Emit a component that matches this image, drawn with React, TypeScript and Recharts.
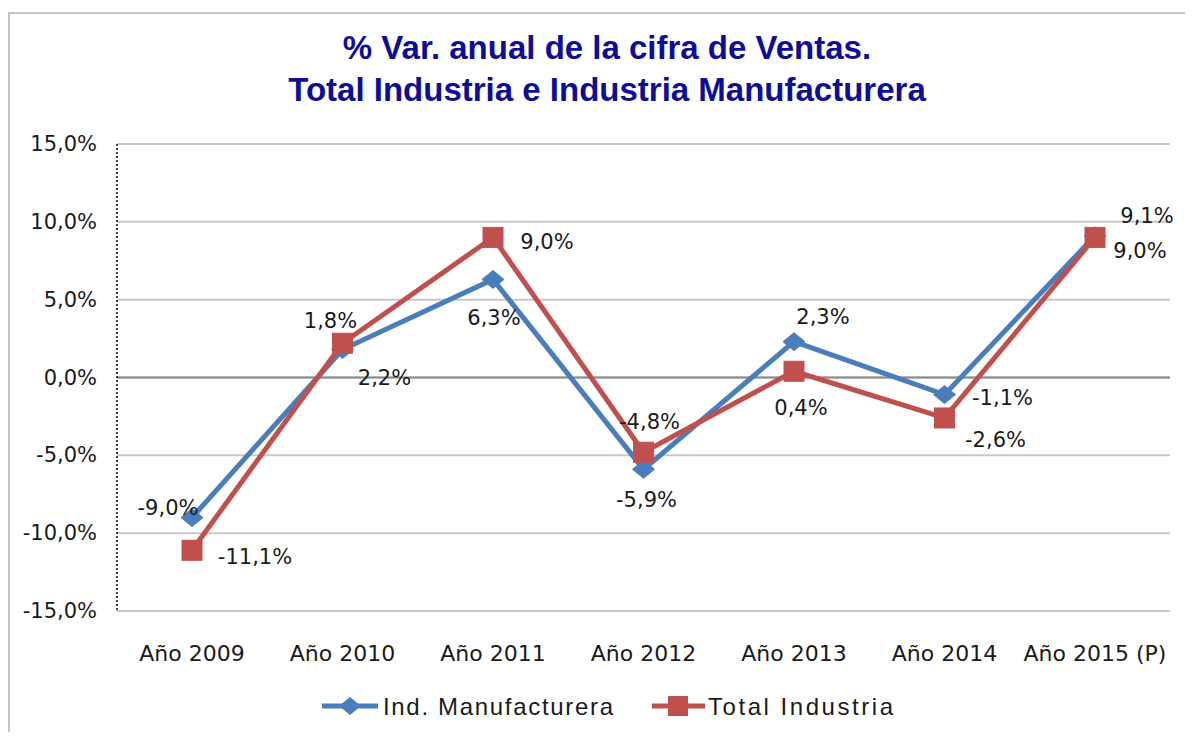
import React from "react";
import { LineChart, Line, XAxis, YAxis, CartesianGrid, ReferenceLine } from "recharts";

const categories = ["Año 2009", "Año 2010", "Año 2011", "Año 2012", "Año 2013", "Año 2014", "Año 2015 (P)"];
const manufacturera = [-9.0, 1.8, 6.3, -5.9, 2.3, -1.1, 9.1];
const totalIndustria = [-11.1, 2.2, 9.0, -4.8, 0.4, -2.6, 9.0];
const yTicks = [-15, -10, -5, 0, 5, 10, 15];
const titleLines = ["% Var. anual de la cifra de Ventas.", "Total Industria e Industria Manufacturera"];
const seriesNames = ["Ind. Manufacturera", "Total Industria"];

// label placement offsets (layout only)
const blueLabelOffsets: [number, number][] = [[-24, -10], [-12, -28], [1, 39], [3, 31], [29, -25], [58, 3], [52, -20]];
const redLabelOffsets: [number, number][] = [[63, 7], [42, 35], [54, 5], [6, -30], [7, 37], [51, 22], [45, 14]];

const data = categories.map((c, i) => ({ cat: c, man: manufacturera[i], tot: totalIndustria[i] }));

const BLUE = "#4a7ebb";
const RED = "#c0504d";
const FONT = "'DejaVu Sans', Verdana, sans-serif";

const fmt = (v: number) => v.toFixed(1).replace(".", ",") + "%";

const makeLabel = (offsets: [number, number][]) => (props: any) => {
  const { x, y, index, value } = props;
  const [dx, dy] = offsets[index] || [0, 0];
  return (
    <text key={"l" + index} x={x + dx} y={y + dy} textAnchor="middle" dominantBaseline="central"
      fontFamily={FONT} fontSize={21} fill="#1a1a1a">{fmt(value)}</text>
  );
};

const Diamond = (props: any) => {
  const { cx, cy, index } = props;
  return <path key={"d" + index} d={`M${cx - 11},${cy} L${cx},${cy - 9} L${cx + 11},${cy} L${cx},${cy + 9} Z`} fill={BLUE} stroke={BLUE} strokeWidth={1} />;
};

const Square = (props: any) => {
  const { cx, cy, index } = props;
  return <rect key={"s" + index} x={cx - 10} y={cy - 10} width={20} height={20} fill={RED} stroke={RED} strokeWidth={1} />;
};

const XTick = (props: any) => {
  const { x, y, payload } = props;
  return (
    <text x={x} y={y + 48} textAnchor="middle" fontFamily={FONT} fontSize={22} fill="#1a1a1a">{payload.value}</text>
  );
};

const YTick = (props: any) => {
  const { x, y, payload } = props;
  return (
    <text x={x} y={y} textAnchor="end" dominantBaseline="central" fontFamily={FONT} fontSize={21} fill="#1a1a1a">{fmt(payload.value)}</text>
  );
};

export default function App() {
  return (
    <div style={{ position: "relative", width: 1177, height: 724, overflow: "hidden", background: "#fff" }}>
      <div style={{ position: "absolute", left: 0, top: 4, width: 1200, height: 740, borderLeft: "2px solid #c4c4c4", borderTop: "2px solid #c4c4c4", boxSizing: "border-box" }} />
      <div style={{ position: "absolute", left: 21, top: 19, width: 1156, textAlign: "center", fontFamily: "'Liberation Sans', Arial, sans-serif", fontWeight: "bold", fontSize: 33, lineHeight: "42px", color: "#0d0d99" }}>
        <div>{titleLines[0]}</div>
        <div>{titleLines[1]}</div>
      </div>
      <div style={{ position: "absolute", left: 0, top: 0 }}>
        <LineChart width={1177} height={724} data={data} margin={{ top: 136, right: 15, bottom: 0, left: 0 }}>
          <CartesianGrid horizontal={true} vertical={false} stroke="#c8c8c8" strokeWidth={2} />
          <ReferenceLine y={0} stroke="#8a8a8a" strokeWidth={2} />
          <XAxis dataKey="cat" height={121} axisLine={false} tickLine={false} tickSize={0} tick={<XTick />} interval={0}
            padding={{ left: 75, right: 75 }} />
          <YAxis domain={[-15, 15]} ticks={yTicks} width={109} axisLine={{ stroke: "#000", strokeDasharray: "2 2", strokeWidth: 1.5 }}
            tickLine={false} tickSize={0} tickMargin={20} tick={<YTick />} interval={0} />
          <Line type="linear" dataKey="man" stroke={BLUE} strokeWidth={5} dot={(p: any) => <Diamond {...p} />}
            label={makeLabel(blueLabelOffsets)} isAnimationActive={false} />
          <Line type="linear" dataKey="tot" stroke={RED} strokeWidth={5} dot={(p: any) => <Square {...p} />}
            label={makeLabel(redLabelOffsets)} isAnimationActive={false} />
        </LineChart>
      </div>
      <svg style={{ position: "absolute", left: 0, top: 0 }} width={1177} height={724}>
        <line x1={314} y1={698} x2={370} y2={698} stroke={BLUE} strokeWidth={5} />
        <path d="M331,698 L342,689 L353,698 L342,707 Z" fill={BLUE} />
        <text x={375} y={698} dominantBaseline="central" fontFamily="'Liberation Sans', Arial, sans-serif" fontSize={24}
          fill="#1a1a1a" textLength={230} lengthAdjust="spacing">{seriesNames[0]}</text>
        <line x1={644} y1={698} x2={697} y2={698} stroke={RED} strokeWidth={5} />
        <rect x={660} y={688} width={20} height={20} fill={RED} />
        <text x={700} y={698} dominantBaseline="central" fontFamily="'Liberation Sans', Arial, sans-serif" fontSize={24}
          fill="#1a1a1a" textLength={185} lengthAdjust="spacing">{seriesNames[1]}</text>
      </svg>
    </div>
  );
}
